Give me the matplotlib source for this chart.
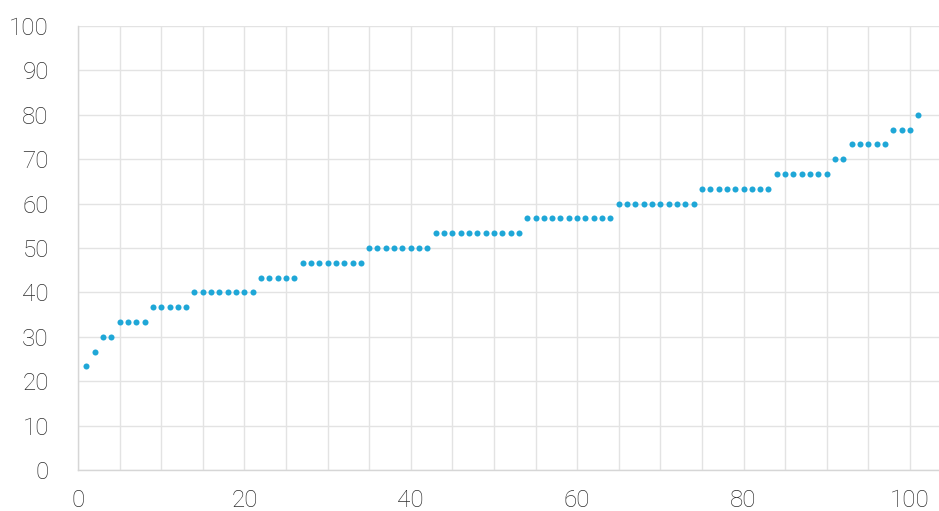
import matplotlib
matplotlib.use("Agg")
import matplotlib.pyplot as plt
import numpy as np

# Score levels (multiples of 10/3) and how many consecutive items sit on each
levels = [23.33, 26.67, 30.0, 33.33, 36.67, 40.0, 43.33, 46.67, 50.0,
          53.33, 56.67, 60.0, 63.33, 66.67, 70.0, 73.33, 76.67, 80.0]
counts = [1, 1, 2, 4, 5, 8, 5, 8, 8, 11, 11, 10, 9, 7, 2, 5, 3, 1]
x_ticks = [0, 20, 40, 60, 80, 100]
y_ticks = [0, 10, 20, 30, 40, 50, 60, 70, 80, 90, 100]

y_vals = np.repeat(levels, counts)
x_vals = np.arange(1, len(y_vals) + 1)

plt.rcParams['font.family'] = ['Roboto', 'DejaVu Sans']
plt.rcParams['font.weight'] = 'light'

fig = plt.figure(figsize=(9.39, 5.11), dpi=100)
ax = fig.add_axes([78 / 939, 1 - 470 / 511, (939 - 78) / 939, (470 - 26) / 511])

ax.scatter(x_vals, y_vals, s=19, color="#1fa7d7", linewidths=0, zorder=3)

ax.set_xlim(0, 103.5)
ax.set_ylim(0, 100)
ax.set_xticks(x_ticks)
ax.set_xticks(np.arange(0, 104, 5), minor=True)
ax.set_yticks(y_ticks)

grid_c = "#e3e3e3"
ax.grid(True, which="both", axis="x", color=grid_c, lw=1, zorder=0)
ax.grid(True, which="major", axis="y", color=grid_c, lw=1, zorder=0)

for side in ["top", "right"]:
    ax.spines[side].set_visible(False)
for side in ["left", "bottom"]:
    ax.spines[side].set_color("#d6d6d6")
    ax.spines[side].set_linewidth(1)

ax.tick_params(axis="both", which="both", length=0, labelsize=17.5,
               labelcolor="#2e2e2e")
ax.tick_params(axis="x", pad=14)
ax.tick_params(axis="y", pad=21)

fig.savefig("out.png", dpi=100)
